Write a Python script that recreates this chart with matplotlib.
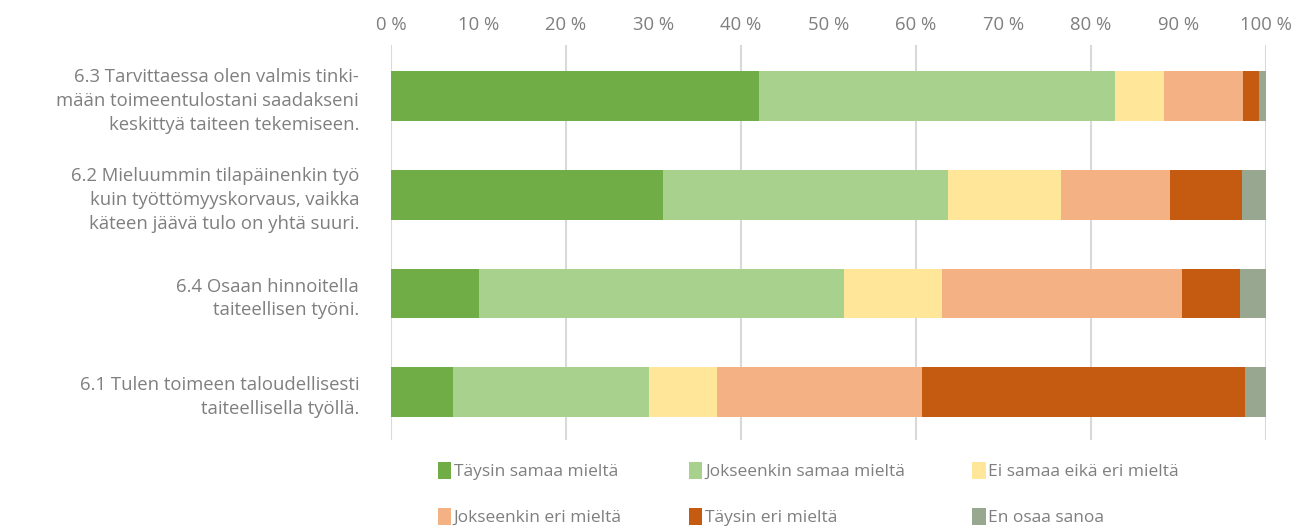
import numpy as np
import matplotlib
matplotlib.use("Agg")
import matplotlib.pyplot as plt

# data, bottom to top
questions = [
    "6.1 Tulen toimeen taloudellisesti\ntaiteellisella työllä.",
    "6.4 Osaan hinnoitella\ntaiteellisen työni.",
    "6.2 Mieluummin tilapäinenkin työ\nkuin työttömyyskorvaus, vaikka\nkäteen jäävä tulo on yhtä suuri.",
    "6.3 Tarvittaessa olen valmis tinki-\nmään toimeentulostani saadakseni\nkeskittyä taiteen tekemiseen.",
]
series = ["Täysin samaa mieltä", "Jokseenkin samaa mieltä", "Ei samaa eikä eri mieltä",
          "Jokseenkin eri mieltä", "Täysin eri mieltä", "En osaa sanoa"]
taysin_samaa = [7.1, 10.1, 31.1, 42.1]
jokseenkin_samaa = [22.4, 41.7, 32.6, 40.6]
ei_samaa_eika_eri = [7.8, 11.2, 12.9, 5.6]
jokseenkin_eri = [23.4, 27.4, 12.4, 9.1]
taysin_eri = [36.9, 6.6, 8.3, 1.8]
en_osaa = [2.4, 3.0, 2.7, 0.8]
colors = ["#70AD47", "#A9D18E", "#FFE699", "#F4B183", "#C55A11", "#98A890"]

values = [taysin_samaa, jokseenkin_samaa, ei_samaa_eika_eri, jokseenkin_eri, taysin_eri, en_osaa]

plt.rcParams['font.family'] = ['Open Sans', 'DejaVu Sans']
grey = "#7F7F7F"

fig = plt.figure(figsize=(13.08, 5.29), dpi=100)
ax = fig.add_axes([391/1308, 1-440/529, 875/1308, 395/529])

# gridlines every 20 %
for g in range(0, 101, 20):
    ax.axvline(g, color="#D9D9D9", linewidth=1.5, zorder=0)

y = np.arange(len(questions))
left = np.zeros(len(questions))
handles = []
for name, vals, col in zip(series, values, colors):
    vals = np.array(vals)
    h = ax.barh(y, vals, left=left, height=0.505, color=col, label=name, zorder=3)
    handles.append(h)
    left += vals

ax.set_xlim(0, 100)
ax.set_ylim(-0.485, 3.52)
ax.xaxis.tick_top()
ax.set_xticks(np.arange(0, 101, 10))
ax.set_xticklabels(["%d %%" % v for v in range(0, 101, 10)], color=grey, fontsize=13.3)
ax.tick_params(axis='x', length=0, pad=8)
ax.set_yticks(y)
ax.set_yticklabels(questions, color=grey, fontsize=13.3, multialignment='right', linespacing=1.42)
ax.tick_params(axis='y', length=0, pad=23)
for s in ax.spines.values():
    s.set_visible(False)

order = [0, 3, 1, 4, 2, 5]
leg = fig.legend([handles[i] for i in order], [series[i] for i in order], ncol=3,
                 loc='center', bbox_to_anchor=(0.618, 0.066), frameon=False,
                 fontsize=12.5, labelcolor=grey, handlelength=0.75, handleheight=1.1,
                 handletextpad=0.15, columnspacing=3.9, labelspacing=1.6)

fig.savefig("out.png", dpi=100)
